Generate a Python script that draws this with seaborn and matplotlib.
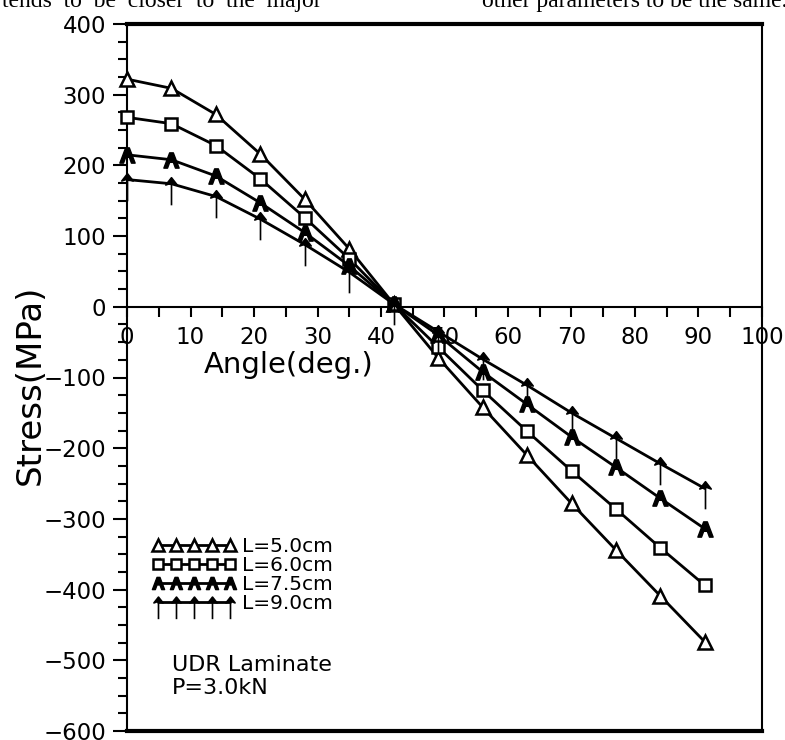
import numpy as np
import pandas as pd
import matplotlib
matplotlib.use("Agg")
import matplotlib.pyplot as plt
from matplotlib.path import Path
from matplotlib.ticker import MultipleLocator
import seaborn as sns

# Stress vs. angle for four specimen lengths
angle = [0, 7, 14, 21, 28, 35, 42, 49, 56, 63, 70, 77, 84, 91]
stress_l50 = [322, 309, 272, 216, 152, 82, 4, -72, -142, -210, -278, -344, -409, -474]
stress_l60 = [268, 259, 228, 181, 126, 68, 4, -57, -118, -176, -232, -286, -341, -394]
stress_l75 = [215, 208, 185, 147, 105, 58, 4, -40, -92, -138, -184, -227, -271, -314]
stress_l90 = [180, 174, 156, 124, 88, 49, 4, -35, -74, -111, -150, -186, -222, -257]
series_labels = ["L=5.0cm", "L=6.0cm", "L=7.5cm", "L=9.0cm"]

x_ticks = [0, 10, 20, 30, 40, 50, 60, 70, 80, 90, 100]
y_ticks = [-600, -500, -400, -300, -200, -100, 0, 100, 200, 300, 400]

note_lines = ["UDR Laminate", "P=3.0kN"]

df = pd.DataFrame({
    "angle": angle * 4,
    "stress": stress_l50 + stress_l60 + stress_l75 + stress_l90,
    "series": [lab for lab in series_labels for _ in angle],
})

# custom marker shapes: filled "A" and up-arrow with a long stem
a_marker = Path(
    [(-0.5, -0.5), (-0.12, 0.5), (0.12, 0.5), (0.5, -0.5), (0.26, -0.5),
     (0.12, -0.12), (-0.12, -0.12), (-0.26, -0.5), (-0.5, -0.5)],
    [Path.MOVETO] + [Path.LINETO] * 7 + [Path.CLOSEPOLY],
)
arrow_marker = Path(
    [(-0.55, -0.05), (0.0, 0.65), (0.55, -0.05), (0.0, 0.15), (-0.55, -0.05),
     (0.0, 0.3), (0.0, -2.0)],
    [Path.MOVETO, Path.LINETO, Path.LINETO, Path.LINETO, Path.CLOSEPOLY,
     Path.MOVETO, Path.LINETO],
)

styles = {
    "L=5.0cm": dict(marker="^", markersize=10, markerfacecolor="white", markeredgewidth=1.8),
    "L=6.0cm": dict(marker="s", markersize=8.5, markerfacecolor="white", markeredgewidth=1.8),
    "L=7.5cm": dict(marker=a_marker, markersize=11, markerfacecolor="black", markeredgewidth=1.0),
    "L=9.0cm": dict(marker=arrow_marker, markersize=30, markerfacecolor="black", markeredgewidth=1.2),
}

sns.set_style("ticks", {"axes.edgecolor": "black", "xtick.color": "black",
                        "ytick.color": "black", "text.color": "black",
                        "axes.labelcolor": "black"})
plt.rcParams["font.family"] = ["DejaVu Sans"]

fig = plt.figure(figsize=(7.85, 7.40), dpi=100)
ax = fig.add_axes([127 / 785, 1 - 731 / 740, 635 / 785, 707 / 740])

for lab in series_labels:
    sub = df[df["series"] == lab]
    sns.lineplot(data=sub, x="angle", y="stress", ax=ax, color="black",
                 linewidth=2.0, markeredgecolor="black", label=lab,
                 clip_on=False, estimator=None, sort=False, zorder=3,
                 **styles[lab])

ax.set_xlim(0, 100)
ax.set_ylim(-600, 400)

# frame
for side in ["top", "bottom"]:
    ax.spines[side].set_linewidth(3.0)
for side in ["left", "right"]:
    ax.spines[side].set_linewidth(1.5)
for sp in ax.spines.values():
    sp.set_color("black")
    sp.set_visible(True)

# y axis
ax.set_yticks(y_ticks)
ax.yaxis.set_minor_locator(MultipleLocator(25))
ax.tick_params(axis="y", which="major", direction="out", length=10, width=1.5,
               pad=5, labelsize=16.5)
ax.tick_params(axis="y", which="minor", direction="out", length=6.5, width=1.5)
ax.tick_params(axis="x", which="both", bottom=False, top=False,
               labelbottom=False, labeltop=False)

# x axis drawn along stress = 0
secax = ax.secondary_xaxis(0.6)
secax.set_alignment("bottom")
secax.set_xticks(x_ticks)
secax.xaxis.set_minor_locator(MultipleLocator(5))
secax.tick_params(axis="x", which="both", direction="out", length=7.5, width=1.5,
                  pad=6, labelsize=16.5)
secax.spines["bottom"].set_linewidth(1.5)
secax.spines["bottom"].set_color("black")

ax.set_xlabel("Angle(deg.)", fontsize=21, va="center")
ax.xaxis.set_label_coords(0.255, 0.518)
ax.set_ylabel("Stress(MPa)", fontsize=24.5, va="center", ha="center")
ax.yaxis.set_label_coords(-0.153, 0.489)

ax.legend(loc="center left", bbox_to_anchor=(0.039, 0.2207), frameon=False,
          numpoints=5, handlelength=4.2, handletextpad=0.3, borderpad=0,
          borderaxespad=0, labelspacing=0.0, fontsize=14.5, markerscale=0.8)

ax.text(0.0709, 0.077, "\n".join(note_lines), transform=ax.transAxes,
        fontsize=16, ha="left", va="center", linespacing=1.15)

# running text of the surrounding page
fig.text(2 / 785, 1 - 7 / 740, "tends  to  be  closer  to  the  major",
         family=["Liberation Serif", "DejaVu Serif"], fontsize=17, va="baseline", ha="left")
fig.text(482 / 785, 1 - 7 / 740, "other parameters to be the same.",
         family=["Liberation Serif", "DejaVu Serif"], fontsize=17, va="baseline", ha="left")

fig.savefig("out.png", dpi=100)
